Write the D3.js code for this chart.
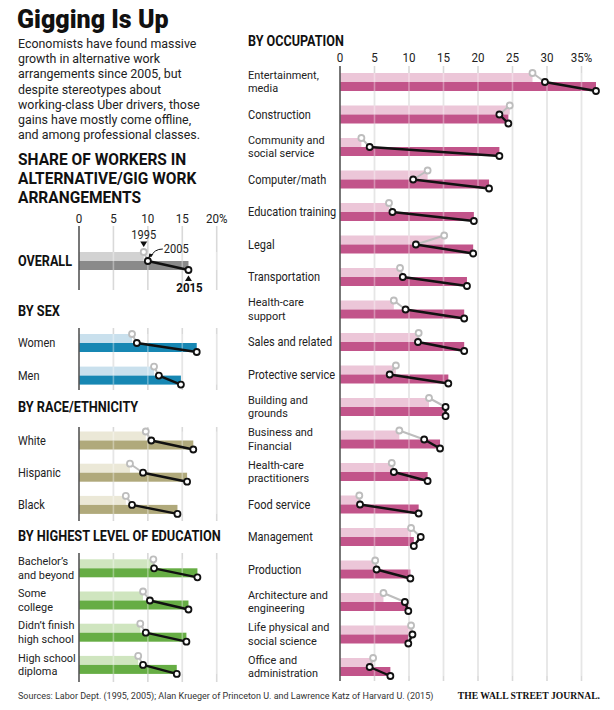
<!DOCTYPE html>
<html><head><meta charset="utf-8">
<script src="https://cdn.jsdelivr.net/npm/d3@7"></script>
<style>
body{margin:0;background:#fff}
</style>
</head><body>
<svg id="c" width="614" height="710" font-family="Roboto, 'Noto Sans', sans-serif"></svg>
<script>
// ---------- DATA ----------
const title = "Gigging Is Up";
const introLines = ["Economists have found massive","growth in alternative work","arrangements since 2005, but","despite stereotypes about","working-class Uber drivers, those","gains have mostly come offline,","and among professional classes."];
const leftTitleLines = ["SHARE OF WORKERS IN","ALTERNATIVE/GIG WORK","ARRANGEMENTS"];
const leftTicks = [0,5,10,15,20];
const leftTickLabels = ["0","5","10","15","20%"];
const rightTicks = [0,5,10,15,20,25,30,35];
const rightTickLabels = ["0","5","10","15","20","25","30","35%"];
const years = ["1995","2005","2015"];

const overallCats = ["OVERALL"];
const overall1995 = [9.4], overall2005 = [10.0], overall2015 = [15.9];

const sexCats = [["Women"],["Men"]];
const sex1995 = [7.7,10.9], sex2005 = [8.4,11.6], sex2015 = [17.1,14.8];

const raceCats = [["White"],["Hispanic"],["Black"]];
const race1995 = [9.7,7.4,6.8], race2005 = [10.5,9.3,7.7], race2015 = [16.6,15.7,14.3];

const eduCats = [["Bachelor’s","and beyond"],["Some","college"],["Didn’t finish","high school"],["High school","diploma"]];
const edu1995 = [10.8,9.3,8.9,8.6], edu2005 = [10.9,10.3,9.7,9.3], edu2015 = [17.2,15.9,15.6,14.2];

const occCats = [["Entertainment,","media"],["Construction"],["Community and","social service"],["Computer/math"],["Education training"],["Legal"],["Transportation"],["Health-care","support"],["Sales and related"],["Protective service"],["Building and","grounds"],["Business and","Financial"],["Health-care","practitioners"],["Food service"],["Management"],["Production"],["Architecture and","engineering"],["Life physical and","social science"],["Office and","administration"]];
const occ1995 = [27.9,24.6,3.1,12.7,7.1,15.1,8.7,7.8,11.4,8.1,12.9,8.6,7.5,2.8,10.3,5.1,6.3,10.3,4.8];
const occ2005 = [29.7,23.1,4.3,10.6,7.6,11.0,9.1,9.5,11.3,7.2,15.3,12.2,7.8,2.9,11.7,5.3,9.4,10.5,4.3];
const occ2015 = [37.1,24.4,23.1,21.6,19.4,19.3,18.4,18.0,18.0,15.7,15.3,14.5,12.7,11.4,10.7,10.2,9.9,9.9,7.3];

const sourceText = "Sources: Labor Dept. (1995, 2005); Alan Krueger of Princeton U. and Lawrence Katz of Harvard U. (2015)";
const brandText = "THE WALL STREET JOURNAL.";

// ---------- DRAW ----------
const svg = d3.select("#c");
const TXT = "#222";

// condensed-looking text: horizontally squeezed; str may be an array of lines
function ctext(x, y, str, size, opts={}){
  const sx = opts.sx || 0.91;
  const t = svg.append("text")
    .attr("transform",`translate(${x},${y}) scale(${sx},1)`)
    .attr("x",0).attr("y",0).attr("font-size",size)
    .attr("font-weight",opts.weight||400).attr("fill",opts.fill||TXT)
    .attr("text-anchor",opts.anchor||"start");
  if(opts.family) t.attr("font-family",opts.family);
  if(Array.isArray(str)){
    str.forEach((l,j)=>t.append("tspan").attr("x",0).attr("y",j*(opts.lh||12.5)).text(l));
  } else t.text(str);
  return t;
}

ctext(17,28,title,25,{weight:900,fill:"#111",sx:1});
ctext(18,48,introLines,12.8,{sx:0.97,lh:15.2});
ctext(18,165,leftTitleLines,16,{weight:700,fill:"#111",sx:0.97,lh:19});

const xL = d3.scaleLinear().domain([0,20]).range([79,216.7]);
const xR = d3.scaleLinear().domain([0,35]).range([340,581.5]);
const BH = 9; // half group height

function grid(x, ticks, y0, y1, over){
  const g = svg.append("g");
  g.selectAll("line").data(ticks.slice(1)).join("line")
    .attr("x1",d=>x(d)).attr("x2",d=>x(d)).attr("y1",y0).attr("y2",y1)
    .attr("stroke", over? "#ffffff":"#d9d9d9").attr("stroke-opacity", over?0.35:1).attr("stroke-width",1.6);
}
function axisLine(x,y0,y1){
  svg.append("line").attr("x1",x(0)).attr("x2",x(0)).attr("y1",y0).attr("y2",y1)
    .attr("stroke","#555").attr("stroke-width",1.6);
}
function tickLabels(x, ticks, labels, y){
  ticks.forEach((d,i)=>ctext(x(d),y,labels[i],12.2,{anchor:"middle",sx:0.95}));
}
function rows(x, tops, v95, v05, v15, light, dark){
  const g = svg.append("g");
  const idx = d3.range(tops.length);
  g.selectAll(".l").data(idx).join("rect").attr("x",x(0)).attr("y",i=>tops[i])
    .attr("width",i=>x(v95[i])-x(0)).attr("height",BH).attr("fill",light);
  g.selectAll(".d").data(idx).join("rect").attr("x",x(0)).attr("y",i=>tops[i]+BH)
    .attr("width",i=>x(v15[i])-x(0)).attr("height",BH).attr("fill",dark);
}
function marks(x, tops, v95, v05, v15){
  const g = svg.append("g");
  const idx = d3.range(tops.length);
  g.selectAll(".s1").data(idx).join("line")
    .attr("x1",i=>x(v95[i])).attr("y1",i=>tops[i]).attr("x2",i=>x(v05[i])).attr("y2",i=>tops[i]+BH)
    .attr("stroke","#bdbdbd").attr("stroke-width",2);
  g.selectAll(".s2").data(idx).join("line")
    .attr("x1",i=>x(v05[i])).attr("y1",i=>tops[i]+BH).attr("x2",i=>x(v15[i])).attr("y2",i=>tops[i]+2*BH)
    .attr("stroke","#111").attr("stroke-width",2.4);
  g.selectAll(".c1").data(idx).join("circle").attr("cx",i=>x(v95[i])).attr("cy",i=>tops[i]).attr("r",3)
    .attr("fill","#fff").attr("stroke","#bdbdbd").attr("stroke-width",1.8);
  g.selectAll(".c2").data(idx).join("circle").attr("cx",i=>x(v05[i])).attr("cy",i=>tops[i]+BH).attr("r",3)
    .attr("fill","#fff").attr("stroke","#111").attr("stroke-width",1.8);
  g.selectAll(".c3").data(idx).join("circle").attr("cx",i=>x(v15[i])).attr("cy",i=>tops[i]+2*BH).attr("r",3)
    .attr("fill","#fff").attr("stroke","#111").attr("stroke-width",1.8);
}
function catLabels(xpos, tops, cats, size){
  cats.forEach((lines,i)=>{
    const c = tops[i]+BH;
    if(lines.length===1) ctext(xpos, c+4, lines[0], 12.1);
    else ctext(xpos, c-3.3, lines, size, {lh:13.6, sx:0.95});
  });
}
function section(x, ticks, tops, cats, v95, v05, v15, light, dark, gy0, gy1, labX, labSize){
  grid(x, ticks, gy0, gy1, false);
  rows(x, tops, v95, v05, v15, light, dark);
  grid(x, ticks, d3.min(tops), d3.max(tops)+2*BH, true);
  axisLine(x, gy0, gy1);
  marks(x, tops, v95, v05, v15);
  if(cats) catLabels(labX, tops, cats, labSize);
}

// Left panel
tickLabels(xL, leftTicks, leftTickLabels, 223);
const topsOverall = [252];
section(xL, leftTicks, topsOverall, null, overall1995, overall2005, overall2015, "#d2d2d2", "#8a8a8a", 226, 290);
ctext(18, topsOverall[0]+BH+5, overallCats[0], 14, {weight:700, fill:"#111", sx:0.9});
// annotations
const o95 = xL(overall1995[0]), o05 = xL(overall2005[0]), o15 = xL(overall2015[0]);
ctext(o95, 238.5, years[0], 12, {anchor:"middle", sx:0.92});
svg.append("path").attr("d",`M${o95-3.5},${241.5}L${o95+3.5},${241.5}L${o95},${247}Z`).attr("fill","#111");
ctext(o05+16, 253, years[1], 12, {sx:0.92});
svg.append("path").attr("d",`M${o05+15},${249}Q${o05+6},${249} ${o05+3},${257}`).attr("fill","none").attr("stroke","#111").attr("stroke-width",1);
svg.append("path").attr("d",`M${o05+0.5},${258.5}L${o05+5.5},${254.5}L${o05+1.5},${253.5}Z`).attr("fill","#111");
svg.append("path").attr("d",`M${o15-3.5},${281}L${o15+3.5},${281}L${o15},${275.5}Z`).attr("fill","#111");
ctext(o15+1, 292, years[2], 12.5, {anchor:"middle", weight:700, fill:"#111", sx:0.92});

// section headers
const headers = [["BY SEX",316],["BY RACE/ETHNICITY",411.5],["BY HIGHEST LEVEL OF EDUCATION",540.5]];
headers.forEach(h=>ctext(18, h[1], h[0], 14, {weight:700, fill:"#111", sx:0.91}));

const LAB = 11.5;
const topsSex = sexCats.map((d,i)=>334+i*32.6);
section(xL, leftTicks, topsSex, sexCats, sex1995, sex2005, sex2015, "#c9e0ed", "#1787b3", 328, 390, 18, LAB);
const topsRace = raceCats.map((d,i)=>431.5+i*32.2);
section(xL, leftTicks, topsRace, raceCats, race1995, race2005, race2015, "#ebe8d7", "#b0a97b", 427, 521, 18, LAB);
const topsEdu = eduCats.map((d,i)=>559.3+i*32.2);
section(xL, leftTicks, topsEdu, eduCats, edu1995, edu2005, edu2015, "#cfe5bf", "#66ad44", 553, 682, 18, LAB);

// Right panel
ctext(248, 46, "BY OCCUPATION", 14, {weight:700, fill:"#111", sx:0.9});
tickLabels(xR, rightTicks, rightTickLabels, 62);
const topsOcc = occCats.map((d,i)=>73+i*32.5);
section(xR, rightTicks, topsOcc, occCats, occ1995, occ2005, occ2015, "#ecc6d8", "#c2548a", 66, 681, 248, LAB);

// Footer
ctext(18, 699, sourceText, 9.8, {fill:"#333", sx:0.92});
ctext(600, 699, brandText, 10.5, {anchor:"end", weight:700, fill:"#111", sx:0.92, family:"'Liberation Serif', 'DejaVu Serif', serif"});
</script>
</body></html>
